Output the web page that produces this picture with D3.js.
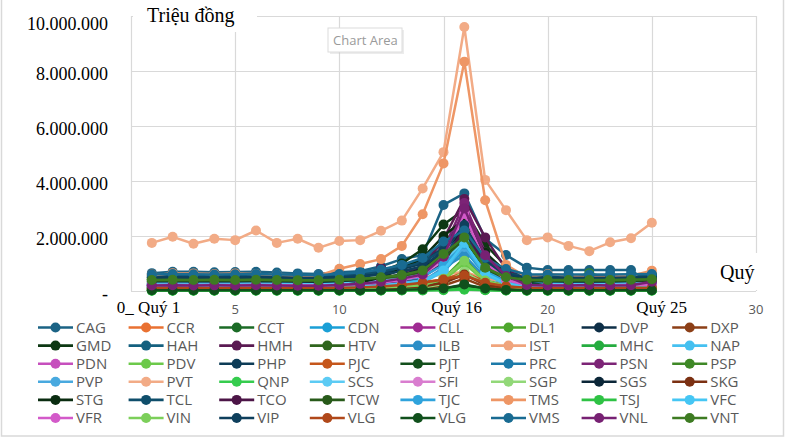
<!DOCTYPE html>
<html><head><meta charset="utf-8">
<script src="https://cdn.jsdelivr.net/npm/d3@7"></script>
<style>
html,body{margin:0;padding:0;background:#fff;}
svg{display:block;}
</style></head>
<body>
<svg id="chart" width="787" height="442"></svg>
<script>
// values in thousands of "triệu đồng" (x1000), quarters 1..25
const UNIT = 1000;
const quarters = d3.range(1, 26);
const CAG = [650,700,700,680,690,700,670,640,620,680,720,900,1160,1310,3130,3550,1900,1310,850,760,760,760,760,760,200];
const CCR = [600,520,430,350,280,200,120,100,90,100,110,130,180,250,380,560,300,150,100,100,90,90,100,110,130];
const CCT = [40,40,35,40,40,40,35,35,30,35,40,45,50,60,80,150,60,40,30,30,30,30,30,30,35];
const CDN = [250,260,250,240,250,260,250,240,230,250,270,300,350,420,700,1500,600,350,250,240,230,230,240,250,260];
const CLL = [180,190,180,190,170,180,170,160,170,200,230,300,420,600,1100,2400,900,400,200,190,180,180,190,200,220];
const DL1 = [100,110,100,105,100,110,100,95,90,100,110,130,160,220,450,1200,400,180,110,100,100,100,100,110,120];
const DVP = [330,340,330,340,330,340,330,320,310,330,360,420,520,700,1300,2300,900,450,340,330,330,330,330,340,350];
const DXP = [60,60,55,60,55,60,55,50,50,55,60,70,80,100,200,450,150,80,60,60,55,55,60,60,65];
const GMD = [450,460,440,450,440,460,440,430,420,480,560,700,1000,1520,2420,2950,1700,900,500,450,440,440,450,460,480];
const HAH = [500,520,510,500,510,520,500,490,480,520,580,700,900,1100,1750,2500,1100,700,520,500,500,500,500,510,520];
const HMH = [220,230,220,210,200,220,210,200,220,400,550,840,700,850,1880,3350,1950,800,400,300,280,280,300,300,320];
const HTV = [420,430,420,430,420,430,420,410,400,420,440,460,500,650,1100,1800,800,500,420,410,410,420,420,430,450];
const ILB = [150,160,150,155,150,160,150,145,140,150,170,200,250,350,840,1300,500,280,160,150,150,150,150,160,170];
const IST = [300,310,290,300,280,300,290,280,300,320,350,400,450,500,600,700,450,350,300,300,280,280,290,300,350];
const MHC = [20,20,20,20,20,25,20,20,20,25,25,30,35,45,70,120,50,30,20,20,20,20,20,20,25];
const NAP = [120,130,120,125,120,130,120,115,110,120,140,170,220,300,700,1700,600,260,130,120,120,120,120,130,140];
const PDN = [200,210,200,205,200,210,200,195,190,210,240,300,400,550,1200,2900,1100,400,210,200,200,200,200,210,220];
const PDV = [80,85,80,82,80,85,80,78,75,80,90,110,140,190,400,1000,350,160,90,80,80,80,80,85,90];
const PHP = [520,530,520,525,520,530,520,510,500,520,560,650,800,1000,1600,2700,1200,650,530,520,520,520,520,530,540];
const PJC = [120,125,120,122,120,125,120,118,115,120,140,180,250,320,420,670,350,200,130,120,120,120,120,125,130];
const PJT = [30,30,28,30,28,30,28,27,26,28,30,35,40,50,80,220,80,40,30,28,28,28,28,30,32];
const PRC = [280,290,280,285,280,290,280,275,270,290,320,380,480,650,1000,1900,800,420,290,280,280,280,280,290,300];
const PSN = [230,240,230,235,230,240,230,225,220,250,300,380,500,700,1500,3200,1400,600,250,230,230,230,230,240,350];
const PSP = [430,440,430,440,420,440,430,420,420,430,450,470,520,700,1430,2060,950,670,400,400,420,650,450,450,610];
const PVP = [160,170,160,165,160,170,160,155,150,165,190,230,290,380,800,1600,650,300,170,160,160,160,160,170,180];
const PVT = [1750,1970,1720,1900,1850,2200,1750,1900,1570,1820,1850,2190,2560,3730,5050,9600,4040,2940,1850,1950,1640,1450,1770,1920,2480];
const QNP = [10,10,10,10,10,10,10,10,10,12,12,15,18,22,30,50,25,15,10,10,10,10,10,10,12];
const SCS = [260,270,260,265,260,270,260,255,250,270,300,360,450,600,1100,1800,700,380,270,260,260,260,260,270,280];
const SFI = [180,190,180,185,180,190,180,175,170,190,220,280,380,520,1150,2700,1000,380,190,180,180,180,180,190,200];
const SGP = [50,55,50,52,50,55,50,48,45,50,58,70,90,120,260,700,250,110,55,50,50,50,50,55,60];
const SGS = [350,360,350,355,350,360,350,345,340,360,400,480,600,800,1400,2200,1000,500,360,350,350,350,350,360,370];
const SKG = [70,75,70,72,70,75,70,68,65,70,80,95,120,160,300,600,220,110,75,70,70,70,70,75,80];
const STG = [150,155,150,152,150,155,150,148,145,200,300,500,800,1200,2000,2600,1400,700,300,200,200,200,200,210,220];
const TCL = [560,570,560,565,560,570,560,555,550,580,620,700,850,1050,1500,2000,1000,600,560,550,550,550,550,560,570];
const TCO = [190,200,190,195,190,200,190,185,180,200,230,290,380,500,1000,2300,900,380,200,190,190,190,190,200,210];
const TCW = [380,390,380,385,380,390,380,375,370,390,420,480,560,700,1200,1900,800,450,380,370,370,370,370,380,390];
const TJC = [220,230,220,225,220,230,220,215,210,230,260,320,400,520,950,1700,700,350,230,220,220,220,220,230,240];
const TMS = [560,650,640,620,640,620,590,560,560,810,980,1160,1640,2790,4640,8340,3300,950,500,620,560,500,520,560,740];
const TSJ = [15,15,15,15,15,15,15,15,15,18,18,22,26,32,45,80,35,20,15,15,15,15,15,15,18];
const VFC = [140,150,140,145,140,150,140,135,130,150,170,210,270,360,750,1750,650,280,150,140,140,140,140,150,160];
const VFR = [210,220,210,215,210,220,210,205,200,220,250,310,400,560,1250,2800,1050,400,220,210,210,210,210,220,230];
const VIN = [90,95,90,92,90,95,90,88,85,92,105,125,160,210,450,1100,380,170,95,90,90,90,90,95,100];
const VIP = [480,490,480,485,480,490,480,475,470,490,520,600,720,900,1450,2400,1100,600,490,480,480,480,480,490,500];
const VLG_1 = [110,115,110,112,110,115,110,108,105,115,130,160,220,300,420,560,300,170,115,110,110,110,110,115,120];
const VLG_2 = [25,25,25,25,25,25,25,25,25,28,30,35,45,60,90,240,90,40,25,25,25,25,25,25,28];
const VMS = [600,620,610,600,610,620,600,590,580,620,680,780,950,1200,1800,2200,1200,800,600,600,600,600,600,610,620];
const VNL = [200,210,200,205,200,210,200,195,190,220,260,340,450,600,1250,3000,1300,550,220,200,200,220,200,210,340];
const VNT = [400,410,400,405,400,410,400,395,390,410,440,500,580,750,1350,1950,850,500,410,400,400,400,400,410,430];

const seriesNames = ["CAG","CCR","CCT","CDN","CLL","DL1","DVP","DXP","GMD","HAH","HMH","HTV","ILB","IST","MHC","NAP","PDN","PDV","PHP","PJC","PJT","PRC","PSN","PSP","PVP","PVT","QNP","SCS","SFI","SGP","SGS","SKG","STG","TCL","TCO","TCW","TJC","TMS","TSJ","VFC","VFR","VIN","VIP","VLG","VLG","VMS","VNL","VNT"];
const seriesValues = [CAG,CCR,CCT,CDN,CLL,DL1,DVP,DXP,GMD,HAH,HMH,HTV,ILB,IST,MHC,NAP,PDN,PDV,PHP,PJC,PJT,PRC,PSN,PSP,PVP,PVT,QNP,SCS,SFI,SGP,SGS,SKG,STG,TCL,TCO,TCW,TJC,TMS,TSJ,VFC,VFR,VIN,VIP,VLG_1,VLG_2,VMS,VNL,VNT];
const seriesColors = ["#1b6385","#e97132","#1b6b26","#1a9fd6","#a02b93","#4ea72e","#0e2f47","#8c3f17",
  "#0d3813","#14607f","#5a1a52","#2f651d","#2c8ec6","#f0a47c","#25ac3f","#45c0f0",
  "#c64fbd","#6cc94a","#0d3c57","#c5561b","#134f1c","#1c7aa9","#7c2476","#3e8826",
  "#48a9df","#f2ab86","#35cc4e","#5ccbf4","#d97dcf","#92d878","#0b2638","#7b3012",
  "#0a2c10","#0f4e6b","#4c1547","#285a1a","#2fa3dc","#ee9665","#2ec244","#45c6f4",
  "#d35ac9","#7ccf5a","#0e3f5c","#b0481a","#10501c","#196b92","#772173","#3d7b22"];

const yTickValues = [0,2000000,4000000,6000000,8000000,10000000];
const xGridValues = [5,10,15,20,25,30];
const xTickLabelValues = [5,10,20,30];
const quarterLabels = ["0_ Quý 1","Quý 16","Quý 25"];
const quarterLabelAt = [0.84,15.63,25.47];

const svg = d3.select("#chart");
const x = d3.scaleLinear().domain([0,30]).range([131,756]);
const y = d3.scaleLinear().domain([0,10000000]).range([291,16]);
const serif = "'Liberation Serif','Times New Roman',serif";
const sans = "'Open Sans','Noto Sans',sans-serif";

// chart border
svg.append("rect").attr("x",1.5).attr("y",-5).attr("width",782).attr("height",441)
  .attr("fill","none").attr("stroke","#d9d9d9").attr("stroke-width",1.5);

// gridlines
const grid = svg.append("g").attr("stroke","#d9d9d9").attr("stroke-width",1.2);
grid.selectAll(".h").data(yTickValues.filter(d=>d>0)).join("line")
  .attr("x1",x(0)).attr("x2",x(30)).attr("y1",d=>Math.round(y(d))+0.5).attr("y2",d=>Math.round(y(d))+0.5);
grid.selectAll(".v").data(xGridValues).join("line")
  .attr("y1",y(10000000)).attr("y2",y(0)).attr("x1",d=>Math.round(x(d))+0.5).attr("x2",d=>Math.round(x(d))+0.5);
// axes lines
grid.append("line").attr("x1",x(0)+0.5).attr("x2",x(0)+0.5).attr("y1",y(10000000)).attr("y2",y(0));
grid.append("line").attr("x1",x(0)).attr("x2",x(30)).attr("y1",Math.round(y(0))+0.5).attr("y2",Math.round(y(0))+0.5);

// y tick labels
const loc = d3.formatLocale({thousands:".",decimal:",",grouping:[3],currency:["",""]});
const fmt = loc.format(",d");
svg.append("g").selectAll("text").data(yTickValues).join("text")
  .attr("x",108).attr("y",d=>y(d) + (d===10000000 ? 14 : 9))
  .attr("text-anchor","end").attr("font-family",serif).attr("font-size",18).attr("fill","#000")
  .text(d=>d===0?"-":fmt(d));

// x tick labels
svg.append("g").selectAll("text").data(xTickLabelValues).join("text")
  .attr("x",d=>x(d)).attr("y",314).attr("text-anchor","middle")
  .attr("font-family",sans).attr("font-size",13).attr("fill","#595959").text(d=>d);

// series
const line = d3.line().x((d,i)=>x(quarters[i])).y(d=>y(d*UNIT));
const sg = svg.append("g");
seriesValues.forEach((vals,k)=>{
  const g = sg.append("g");
  g.append("path").datum(vals).attr("d",line).attr("fill","none")
    .attr("stroke",seriesColors[k]).attr("stroke-width",2.5).attr("stroke-linejoin","round");
  g.selectAll("circle").data(vals).join("circle")
    .attr("cx",(d,i)=>x(quarters[i])).attr("cy",d=>y(d*UNIT)).attr("r",5)
    .attr("fill",seriesColors[k]);
});

// overlays: title box
svg.append("rect").attr("x",133).attr("y",0).attr("width",124).attr("height",32).attr("fill","#fff");
svg.append("text").attr("x",147).attr("y",22).attr("font-family",serif).attr("font-size",20)
  .attr("fill","#000").text("Triệu đồng");
// axis title box
svg.append("rect").attr("x",705).attr("y",253).attr("width",56).attr("height",37).attr("fill","#fff");
svg.append("text").attr("x",720).attr("y",279).attr("font-family",serif).attr("font-size",20)
  .attr("fill","#000").text("Quý");

// quarter labels
svg.append("g").selectAll("text").data(quarterLabels).join("text")
  .attr("x",(d,i)=>x(quarterLabelAt[i])).attr("y",313).attr("text-anchor","middle")
  .attr("font-family",serif).attr("font-size",17).attr("fill","#000").text(d=>d);

// tooltip "Chart Area"
const tip = svg.append("g");
tip.append("rect").attr("x",330).attr("y",30).attr("width",74).attr("height",24)
  .attr("fill","#c8c8c8").attr("opacity",0.35);
tip.append("rect").attr("x",328).attr("y",28).attr("width",74).attr("height",24)
  .attr("fill","#fff").attr("stroke","#dcdcdc");
tip.append("text").attr("x",333).attr("y",45).attr("font-family",sans).attr("font-size",13)
  .attr("fill","#9a9a9a").text("Chart Area");

// legend
const legend = svg.append("g");
seriesNames.forEach((name,k)=>{
  const col = k % 8, row = Math.floor(k/8);
  const lx = 38 + col*90.6, ly = 327.5 + row*18.1;
  const g = legend.append("g").attr("transform",`translate(${lx},${ly})`);
  g.append("line").attr("x1",0).attr("x2",35).attr("y1",0).attr("y2",0)
    .attr("stroke",seriesColors[k]).attr("stroke-width",2.6);
  g.append("circle").attr("cx",17.5).attr("cy",0).attr("r",5).attr("fill",seriesColors[k]);
  g.append("text").attr("x",38).attr("y",5.4).attr("font-family",sans).attr("font-size",15)
    .attr("fill","#595959").text(name);
});
</script>
</body></html>
